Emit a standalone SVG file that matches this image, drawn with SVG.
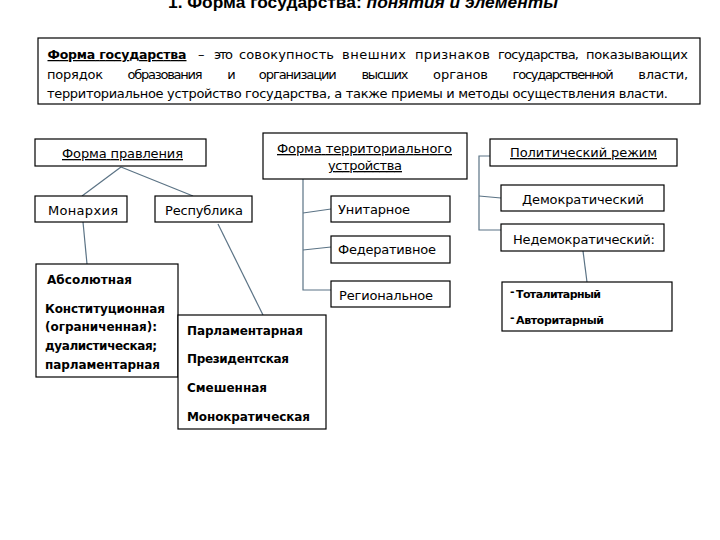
<svg xmlns="http://www.w3.org/2000/svg" width="720" height="540" viewBox="0 0 720 540">
<style>
.box{fill:#fff;stroke:#000;stroke-width:1.2}
.t{font-family:"DejaVu Sans",sans-serif;font-size:13px;fill:#000}
.b{font-family:"DejaVu Sans",sans-serif;font-size:12px;font-weight:bold;fill:#000}
.s{font-family:"DejaVu Sans",sans-serif;font-size:11px;font-weight:bold;fill:#000}
.u{text-decoration:underline}
.c{fill:none;stroke:#5b7385;stroke-width:1.2}
</style>
<rect width="720" height="540" fill="#fff"/>
<text id="title" x="168" y="8" textLength="390" lengthAdjust="spacingAndGlyphs" style="font-family:'Liberation Sans',sans-serif;font-size:17px;font-weight:bold">1. Форма государства: <tspan font-style="italic">понятия и элементы</tspan></text>

<g id="definition">
<rect class="box" x="38" y="38" width="662" height="66"/>
<text class="b u" x="47.5" y="59" textLength="139" style="font-size:12.5px">Форма государства</text>
<text class="t" x="198" y="59" textLength="7">–</text>
<text class="t" x="214" y="59" textLength="19">это</text>
<text class="t" x="239" y="59" textLength="95">совокупность</text>
<text class="t" x="342" y="59" textLength="64">внешних</text>
<text class="t" x="415" y="59" textLength="75">признаков</text>
<text class="t" x="498" y="59" textLength="81">государства,</text>
<text class="t" x="586" y="59" textLength="102">показывающих</text>
<text class="t" x="47" y="79" textLength="56">порядок</text>
<text class="t" x="127.6" y="79" textLength="75">образования</text>
<text class="t" x="227.2" y="79" textLength="7">и</text>
<text class="t" x="258.8" y="79" textLength="78">организации</text>
<text class="t" x="361.4" y="79" textLength="47">высших</text>
<text class="t" x="433" y="79" textLength="55">органов</text>
<text class="t" x="512.6" y="79" textLength="101">государственной</text>
<text class="t" x="638.2" y="79" textLength="50">власти,</text>
<text class="t" x="47" y="98" textLength="621">территориальное устройство государства, а также приемы и методы осуществления власти.</text>
</g>

<g id="connectors">
<path class="c" d="M121,167 L82,196"/>
<path class="c" d="M121,167 L193,196"/>
<path class="c" d="M83,222 L87,264"/>
<path class="c" d="M218,224 L263,315"/>
<path class="c" d="M303,179 V290 H331"/>
<path class="c" d="M303,213 L331,209"/>
<path class="c" d="M303,250 L331,247"/>
<path class="c" d="M490,156 H479 V230 H501"/>
<path class="c" d="M479,196 L501,198"/>
<path class="c" d="M583,251 L587,282"/>
</g>

<g id="forma-pravleniya">
<rect class="box" x="35" y="139" width="171" height="27"/>
<text class="t u" x="62" y="158" textLength="121">Форма правления</text>
</g>
<g id="monarkhiya">
<rect class="box" x="35" y="196" width="92" height="26"/>
<text class="t" x="48" y="215" textLength="70">Монархия</text>
</g>
<g id="respublika">
<rect class="box" x="155" y="196" width="97" height="26"/>
<text class="t" x="165" y="215" textLength="78">Республика</text>
</g>
<g id="monarchy-types">
<rect class="box" x="36" y="264" width="142" height="113"/>
<text class="b" x="47" y="284" textLength="85">Абсолютная</text>
<text class="b" x="45" y="313" textLength="120">Конституционная</text>
<text class="b" x="45" y="331" textLength="112">(ограниченная):</text>
<text class="b" x="45" y="350" textLength="112">дуалистическая;</text>
<text class="b" x="45" y="369" textLength="115">парламентарная</text>
</g>
<g id="republic-types">
<rect class="box" x="178" y="315" width="148" height="114"/>
<text class="b" x="187" y="335" textLength="116">Парламентарная</text>
<text class="b" x="187" y="363" textLength="102">Президентская</text>
<text class="b" x="187" y="392" textLength="80">Смешенная</text>
<text class="b" x="187" y="421" textLength="123">Монократическая</text>
</g>

<g id="forma-ustroystva">
<rect class="box" x="263" y="133" width="204" height="46"/>
<text class="t u" x="277" y="153" textLength="175">Форма территориального</text>
<text class="t u" x="328" y="170" textLength="74">устройства</text>
</g>
<g id="unitarnoe">
<rect class="box" x="331" y="196" width="119" height="26"/>
<text class="t" x="338" y="214" textLength="72">Унитарное</text>
</g>
<g id="federativnoe">
<rect class="box" x="331" y="236" width="119" height="27"/>
<text class="t" x="338" y="254" textLength="98">Федеративное</text>
</g>
<g id="regionalnoe">
<rect class="box" x="331" y="281" width="119" height="26"/>
<text class="t" x="339" y="300" textLength="94">Региональное</text>
</g>

<g id="politicheskiy-rezhim">
<rect class="box" x="490" y="139" width="187" height="27"/>
<text class="t u" x="510" y="157" textLength="147">Политический режим</text>
</g>
<g id="demokraticheskiy">
<rect class="box" x="501" y="185" width="163" height="26"/>
<text class="t" x="522" y="204" textLength="122">Демократический</text>
</g>
<g id="nedemokraticheskiy">
<rect class="box" x="501" y="224" width="163" height="27"/>
<text class="t" x="513" y="244" textLength="142">Недемократический:</text>
</g>
<g id="nondemocratic-types">
<rect class="box" x="502" y="282" width="170" height="49"/>
<text class="s" x="510" y="294.5" font-size="8">-</text>
<text class="s" x="516" y="298" textLength="85">Тоталитарный</text>
<text class="s" x="510" y="320.5" font-size="8">-</text>
<text class="s" x="516" y="324" textLength="88">Авторитарный</text>
</g>
</svg>
